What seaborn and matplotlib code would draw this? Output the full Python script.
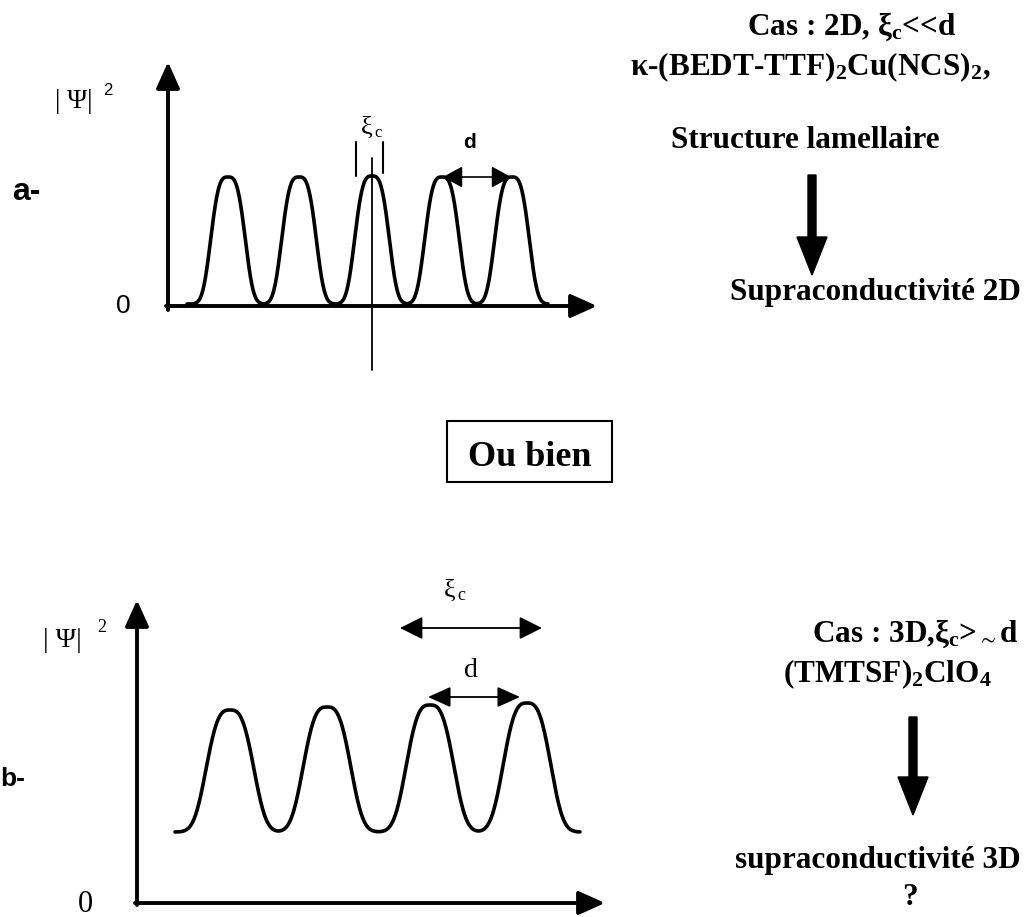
import numpy as np
import pandas as pd
import matplotlib
matplotlib.use("Agg")
import matplotlib.pyplot as plt
import seaborn as sns
from matplotlib.patches import Rectangle

# ---------------- values ----------------
# panel a (2D case): peak centres and peak tops of |Psi|^2 (figure pixel scale)
peaks_a_x = [228, 299, 372, 442, 512]
peaks_a_top = [177, 177, 176, 177, 177]
base_a = 304
span_a = [187, 548]
# panel b (3D case)
peaks_b_x = [230, 327, 430, 527]
peaks_b_top = [710, 707, 705, 703]
base_b = 832
span_b = [175, 580]

text_case_a = ["Cas : 2D, $\\xi_c$<<d", "\u03ba-(BEDT-TTF)$_2$Cu(NCS)$_2$,",
               "Structure lamellaire", "Supraconductivit\u00e9 2D"]
text_case_b = ["Cas : 3D,$\\xi_c$>$_\\sim$d", "(TMTSF)$_2$ClO$_4$",
               "supraconductivit\u00e9 3D", "?"]
text_mid = "Ou bien"

# ---------------- style ----------------
sns.set_theme(style="white")
plt.rcParams["font.family"] = ["Liberation Serif", "DejaVu Serif"]
plt.rcParams["text.color"] = "black"
plt.rcParams["mathtext.fontset"] = "custom"
plt.rcParams["mathtext.rm"] = "Liberation Serif:bold"
plt.rcParams["mathtext.it"] = "Liberation Serif:bold"
plt.rcParams["mathtext.bf"] = "Liberation Serif:bold"
plt.rcParams["mathtext.fallback"] = "stix"

SERIF = ["Liberation Serif", "DejaVu Serif"]
SANS = ["Liberation Sans", "DejaVu Sans"]

fig = plt.figure(figsize=(10.36, 9.17), dpi=100)
ax = fig.add_axes([0, 0, 1, 1])


def profile(span, centres, tops, base, w, p):
    xs = np.linspace(span[0], span[1], 900)
    f = np.zeros_like(xs)
    for c, t in zip(centres, tops):
        f += (base - t) * np.exp(-(np.abs(xs - c) / w) ** p)
    return pd.DataFrame({"x": xs, "y": base - f})


df_a = profile(span_a, peaks_a_x, peaks_a_top, base_a, 19.6, 3.2)
df_b = profile(span_b, peaks_b_x, peaks_b_top, base_b, 27.5, 3.0)
sns.lineplot(data=df_a, x="x", y="y", ax=ax, color="black", lw=2.6,
             sort=False, estimator=None)
sns.lineplot(data=df_b, x="x", y="y", ax=ax, color="black", lw=2.6,
             sort=False, estimator=None)


def arrow(x0, y0, x1, y1, style="-|>", lw=2.8, ms=16, hl=1.0, hw=0.45):
    ax.annotate("", xy=(x1, y1), xytext=(x0, y0),
                arrowprops=dict(arrowstyle=f"{style},head_length={hl},head_width={hw}",
                                mutation_scale=ms, lw=lw, color="black",
                                shrinkA=0, shrinkB=0))


# axes of panel a
arrow(168, 310, 168, 62)
arrow(166, 306, 597, 306)
# axes of panel b
arrow(137, 905, 137, 600)
arrow(135, 903, 605, 903)

# panel a annotations
ax.plot([372, 372], [158, 370], color="black", lw=1.3)
ax.plot([356, 356], [142, 176], color="black", lw=1.5)
ax.plot([383, 383], [142, 173], color="black", lw=1.5)
arrow(443, 177, 511, 177, style="<|-|>", lw=1.2, ms=12, hl=1.0, hw=0.55)
ax.text(463, 148, "d", fontsize=15, fontweight="bold", family=SANS, va="baseline")
ax.text(361, 134, "\u03be", fontsize=19, family=SERIF, va="baseline")
ax.text(374, 137, "c", fontsize=12, family=SERIF, va="baseline")
ax.text(55, 108, "| \u03a8|", fontsize=19.5, family=SERIF, va="baseline")
ax.text(103, 95, "2", fontsize=12, family=SANS, va="baseline")
ax.text(116, 313, "0", fontsize=19, family=SANS, va="baseline")
ax.text(12, 200, "a-", fontsize=23, fontweight="bold", family=SANS, va="baseline")

# panel b annotations
arrow(400, 628, 542, 628, style="<|-|>", lw=1.3, ms=14, hl=1.0, hw=0.5)
arrow(428, 697, 520, 697, style="<|-|>", lw=1.3, ms=14, hl=1.0, hw=0.45)
ax.text(444, 597, "\u03be", fontsize=19, family=SERIF, va="baseline")
ax.text(457, 600, "c", fontsize=13, family=SERIF, va="baseline")
ax.text(464, 677, "d", fontsize=20, family=SERIF, va="baseline")
ax.text(43, 647, "| \u03a8|", fontsize=20, family=SERIF, va="baseline")
ax.text(97, 632, "2", fontsize=13, family=SERIF, va="baseline")
ax.text(78, 912, "0", fontsize=22, family=SERIF, va="baseline")
ax.text(0, 786, "b-", fontsize=19, fontweight="bold", family=SANS, va="baseline")

# right-hand texts
FS = 22.5
kw = dict(fontsize=FS, fontweight="bold", family=SERIF, va="baseline")
ax.text(747, 35, text_case_a[0], **kw)
ax.text(630, 75, text_case_a[1], **kw)
ax.text(805, 148, text_case_a[2], ha="center", **kw)
ax.text(730, 300, text_case_a[3], **kw)
ax.arrow(812, 175, 0, 100, width=8, head_width=30, head_length=38,
         length_includes_head=True, color="black")

ax.text(812, 642, text_case_b[0], **kw)
ax.text(783, 682, text_case_b[1], **kw)
ax.text(735, 868, text_case_b[2], **kw)
ax.text(910, 905, text_case_b[3], ha="center", **kw)
ax.arrow(913, 717, 0, 98, width=8, head_width=30, head_length=38,
         length_includes_head=True, color="black")

# "Ou bien" box
ax.add_patch(Rectangle((447, 421), 165, 61, fill=False, lw=1.5, edgecolor="black"))
ax.text(468, 466, text_mid, fontsize=26, fontweight="bold", family=SERIF, va="baseline")

ax.set_xlim(0, 1036)
ax.set_ylim(917, 0)
ax.axis("off")
fig.savefig("out.png", dpi=100)
